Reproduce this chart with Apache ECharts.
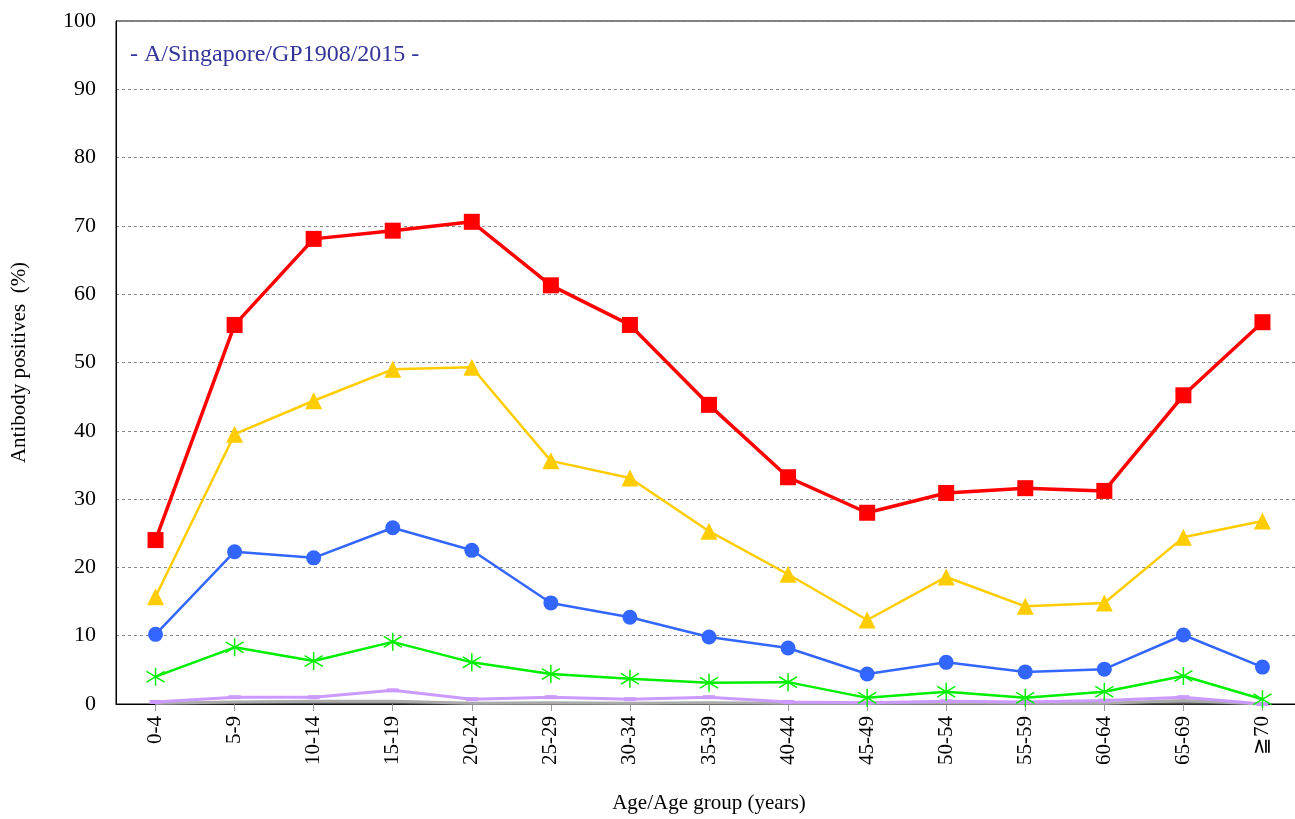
<!DOCTYPE html>
<html>
<head>
<meta charset="utf-8">
<script src="https://cdn.jsdelivr.net/npm/echarts@6/dist/echarts.min.js"></script>
<style>
  html, body { margin: 0; padding: 0; background: #fff; }
  #chart { width: 1295px; height: 819px; }
</style>
</head>
<body>
<div id="chart"></div>
<script>
const categories = ['0-4', '5-9', '10-14', '15-19', '20-24', '25-29', '30-34', '35-39',
    '40-44', '45-49', '50-54', '55-59', '60-64', '65-69', '≧70'];

const redValues    = [24.0, 55.5, 68.1, 69.3, 70.6, 61.3, 55.5, 43.8, 33.2, 28.0, 30.9, 31.6, 31.2, 45.2, 55.9];
const yellowValues = [15.7, 39.5, 44.4, 49.0, 49.3, 35.6, 33.1, 25.3, 19.0, 12.3, 18.6, 14.3, 14.8, 24.4, 26.8];
const blueValues   = [10.2, 22.3, 21.4, 25.8, 22.5, 14.8, 12.7, 9.8, 8.2, 4.4, 6.1, 4.7, 5.1, 10.1, 5.4];
const greenValues  = [4.0, 8.3, 6.3, 9.1, 6.1, 4.4, 3.7, 3.1, 3.2, 0.9, 1.8, 0.9, 1.8, 4.1, 0.7];
const purpleValues = [0.3, 1.0, 1.0, 2.0, 0.7, 1.0, 0.7, 1.0, 0.3, 0.2, 0.4, 0.3, 0.5, 1.0, 0.0];
const grayValues   = [0.1, 0.3, 0.4, 0.4, 0.1, 0.2, 0.1, 0.2, 0.1, 0.1, 0.2, 0.1, 0.1, 0.5, 0.0];
const darkValues   = [0.0, 0.1, 0.1, 0.1, 0.0, 0.0, 0.0, 0.1, 0.0, 0.0, 0.0, 0.0, 0.0, 0.1, 0.0];

const SERIF = '"Liberation Serif", "DejaVu Serif", serif';
const ASTERISK = 'path://M10,0 L10,20 M2,4 L18,16 M2,16 L18,4';

function line(name, data, color, width, symbol, size, extra) {
    return Object.assign({
        name: name,
        type: 'line',
        data: data,
        symbol: symbol,
        symbolSize: size,
        showSymbol: symbol !== 'none',
        lineStyle: { color: color, width: width },
        itemStyle: { color: color },
        animation: false,
    }, extra || {});
}

const chart = echarts.init(document.getElementById('chart'));
chart.setOption({
    backgroundColor: '#fff',
    graphic: [{
        type: 'text',
        left: 130,
        top: 43,
        style: {
            text: '- A/Singapore/GP1908/2015 -',
            fill: '#333399',
            font: '24px ' + SERIF,
        },
    }],
    grid: {
        left: 116,
        width: 1186,
        top: 21,
        bottom: 115,
        outerBoundsMode: 'none',
        containLabel: false,
        show: true,
        borderColor: '#000',
        borderWidth: 1,
        backgroundColor: 'transparent',
    },
    xAxis: {
        type: 'category',
        data: categories,
        boundaryGap: true,
        name: 'Age/Age group (years)',
        nameLocation: 'middle',
        nameGap: 89,
        nameTextStyle: { fontFamily: SERIF, fontSize: 21, color: '#000' },
        axisLine: { lineStyle: { color: '#000', width: 1 } },
        axisTick: { show: true, alignWithLabel: true, length: 7, lineStyle: { color: '#999' } },
        axisLabel: {
            rotate: 90,
            fontFamily: SERIF,
            fontSize: 21,
            color: '#000',
            margin: 12,
            interval: 0,
        },
        splitLine: { show: false },
    },
    yAxis: {
        type: 'value',
        min: 0,
        max: 100,
        interval: 10,
        name: 'Antibody positives  (%)',
        nameLocation: 'middle',
        nameGap: 86,
        nameTextStyle: { fontFamily: SERIF, fontSize: 21, color: '#000' },
        axisLine: { show: true, lineStyle: { color: '#000', width: 1 } },
        axisTick: { show: false },
        axisLabel: { fontFamily: SERIF, fontSize: 22, color: '#000', margin: 20 },
        splitLine: { show: true, lineStyle: { color: '#888', type: [3, 3], width: 1 } },
    },
    series: [
        line('dark', darkValues, '#555555', 2, 'none', 0),
        line('gray', grayValues, '#aaaaaa', 3, 'none', 0),
        line('purple', purpleValues, '#cc99ff', 3, 'rect', [12, 4]),
        line('green', greenValues, '#00ee00', 2.5, ASTERISK, 18, {
            itemStyle: { color: 'none', borderColor: '#00ee00', borderWidth: 1.5 },
        }),
        line('blue', blueValues, '#3366ff', 2.5, 'circle', 15),
        line('yellow', yellowValues, '#ffcc00', 2.5, 'triangle', 17),
        line('red', redValues, '#ff0000', 3.5, 'rect', 16),
    ],
});
</script>
</body>
</html>
